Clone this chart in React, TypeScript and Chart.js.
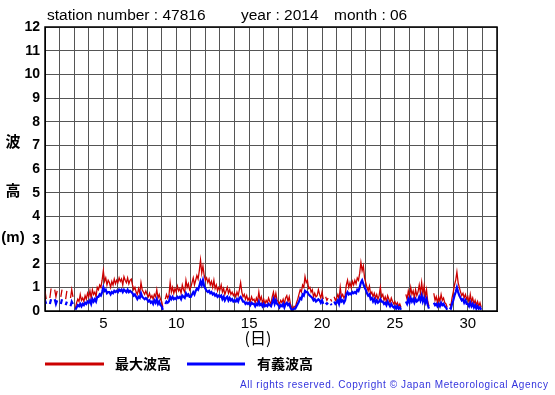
import React, { useEffect, useRef } from "react";
import { Chart, registerables } from "chart.js";

Chart.register(...registerables);

// Header / labels
const stationText = "station number : 47816";
const yearText = "year : 2014";
const monthText = "month : 06";
const yTitleChars = ["波", "高", "(m)"];
const xTitle = "(日)";
const legendMax = "最大波高";
const legendSig = "有義波高";
const copyright = "All rights reserved. Copyright © Japan Meteorological Agency";

// Axes
const dayMin = 1;
const dayMax = 32;
const xLabelDays = [5, 10, 15, 20, 25, 30];
const yMin = 0;
const yMax = 12;
const samplesPerDay = 12; // every 2 hours

// 最大波高 (m), 2-hourly, days 1..30
const maxWave: (number | null)[] = [
  0.85, 0.5, null, null, 0.55, 0.95, null, null, 0.9, 0.6, 0.85, null, // 1
  null, 0.6, 0.9, null, null, 0.5, 0.85, null, null, 0.55, 0.9, 0.6, // 2
  null, 0.1, 0.35, 0.5, 0.4, 0.7, 0.45, 0.55, 0.4, 0.65, 0.5, 0.75, // 3
  0.6, 0.85, 0.55, 0.9, 0.7, 0.8, 0.6, 1.0, 0.9, 1.1, 1.0, 1.3, // 4
  1.7, 1.25, 1.4, 1.1, 1.3, 1.2, 1.0, 1.25, 1.1, 1.35, 1.15, 1.3, // 5
  1.2, 1.4, 1.25, 1.35, 1.1, 1.45, 1.3, 1.2, 1.4, 1.15, 1.3, 1.35, // 6
  1.1, 0.9, 1.0, 0.8, 0.7, 0.95, 0.75, 1.2, 0.9, 0.8, 0.7, 0.85, // 7
  0.7, 0.6, 0.75, 0.55, 0.65, 0.5, 0.7, 0.6, 0.9, 0.55, 0.7, 0.5, // 8
  0.4, 0.15, null, 0.5, 0.7, 0.55, 0.65, 1.2, 0.8, 1.0, 0.75, 0.95, // 9
  0.8, 1.05, 0.85, 0.95, 0.75, 1.1, 0.9, 0.8, 1.3, 1.0, 1.15, 0.9, // 10
  1.0, 1.2, 1.4, 1.1, 1.3, 1.5, 1.35, 1.7, 2.15, 1.6, 1.9, 1.5, // 11
  1.3, 1.4, 1.2, 1.35, 1.1, 1.25, 1.0, 1.3, 0.95, 1.1, 0.85, 1.0, // 12
  0.9, 1.1, 0.8, 0.95, 0.7, 0.85, 1.0, 0.75, 0.9, 0.7, 0.8, 0.65, // 13
  0.75, 0.6, 0.8, 0.65, 0.9, 1.2, 0.8, 0.6, 0.7, 0.5, 0.65, 0.45, // 14
  0.55, 0.4, 0.6, 0.45, 0.5, 0.35, 0.55, 0.4, 0.8, 0.45, 0.6, 0.35, // 15
  0.5, 0.3, 0.45, 0.35, 0.55, 0.4, 0.3, 0.6, 0.8, 0.5, 0.75, 0.45, // 16
  0.4, 0.3, 0.45, 0.35, 0.5, 0.3, 0.55, 0.65, 0.4, 0.6, 0.3, 0.15, // 17
  0.1, 0.2, 0.15, 0.35, 0.5, 0.7, 0.9, 0.8, 1.1, 1.0, 1.45, 1.2, // 18
  1.3, 0.95, 1.0, 0.8, 0.9, 0.6, 0.75, 0.6, 0.65, 0.9, 0.7, 0.55, // 19
  0.8, 0.5, null, 0.6, 0.45, 0.55, null, 0.5, 0.4, null, 0.6, 0.45, // 20
  0.55, 0.7, 0.5, 1.0, 0.6, 0.7, 0.55, 0.65, 1.1, 1.3, 1.0, 1.2, // 21
  1.0, 1.25, 1.1, 1.3, 1.15, 1.4, 1.3, 1.6, 2.05, 1.7, 1.9, 1.4, // 22
  1.2, 1.0, 0.85, 1.05, 0.7, 0.8, 0.6, 0.75, 0.55, 0.7, 0.5, 0.65, // 23
  1.0, 0.6, 0.7, 0.45, 0.6, 0.4, 0.65, 0.5, 0.35, 0.55, 0.4, 0.3, // 24
  0.4, 0.25, 0.35, 0.2, 0.3, 0.15, null, null, null, 0.7, 0.5, 0.85, // 25
  0.6, 1.0, 0.7, 0.85, 0.55, 0.9, 0.65, 0.8, 1.1, 0.75, 1.2, 0.7, // 26
  1.05, 0.6, 0.9, 0.4, 0.2, null, null, null, 0.75, 0.45, 0.6, 0.35, // 27
  0.6, 0.4, 0.7, 0.45, 0.55, 0.35, 0.3, 0.15, null, 0.3, 0.2, 0.55, // 28
  0.8, 1.1, 1.3, 1.65, 1.2, 1.0, 0.8, 0.65, 0.75, 0.55, 0.7, 0.5, // 29
  0.6, 0.35, 0.7, 0.4, 0.55, 0.3, 0.45, 0.25, 0.4, 0.2, 0.35, 0.15, // 30
];

// 有義波高 (m), 2-hourly, days 1..30
const sigWave: (number | null)[] = [
  0.45, 0.3, null, null, 0.3, 0.5, null, null, 0.5, 0.3, 0.45, null, // 1
  null, 0.3, 0.5, null, null, 0.25, 0.4, null, null, 0.2, 0.4, 0.3, // 2
  null, 0.05, 0.15, 0.25, 0.2, 0.3, 0.2, 0.3, 0.25, 0.35, 0.3, 0.4, // 3
  0.35, 0.45, 0.3, 0.5, 0.4, 0.5, 0.4, 0.6, 0.6, 0.7, 0.65, 0.8, // 4
  1.0, 0.85, 0.9, 0.75, 0.8, 0.8, 0.7, 0.8, 0.75, 0.85, 0.8, 0.85, // 5
  0.8, 0.9, 0.85, 0.9, 0.8, 0.9, 0.85, 0.8, 0.9, 0.8, 0.85, 0.8, // 6
  0.75, 0.65, 0.7, 0.6, 0.5, 0.6, 0.55, 0.75, 0.6, 0.55, 0.5, 0.55, // 7
  0.5, 0.4, 0.45, 0.35, 0.4, 0.3, 0.45, 0.35, 0.5, 0.3, 0.4, 0.25, // 8
  0.2, 0.05, null, 0.3, 0.4, 0.35, 0.4, 0.6, 0.5, 0.6, 0.5, 0.55, // 9
  0.5, 0.6, 0.55, 0.6, 0.5, 0.65, 0.6, 0.55, 0.75, 0.65, 0.7, 0.6, // 10
  0.6, 0.7, 0.8, 0.7, 0.85, 0.95, 0.9, 1.05, 1.25, 1.1, 1.3, 1.05, // 11
  0.95, 0.85, 0.8, 0.85, 0.75, 0.8, 0.7, 0.75, 0.65, 0.7, 0.6, 0.65, // 12
  0.6, 0.65, 0.5, 0.6, 0.45, 0.55, 0.6, 0.45, 0.55, 0.45, 0.5, 0.4, // 13
  0.45, 0.4, 0.5, 0.4, 0.55, 0.6, 0.5, 0.4, 0.4, 0.3, 0.35, 0.3, // 14
  0.35, 0.25, 0.35, 0.3, 0.3, 0.2, 0.3, 0.25, 0.4, 0.25, 0.3, 0.2, // 15
  0.3, 0.2, 0.25, 0.2, 0.3, 0.25, 0.2, 0.35, 0.5, 0.3, 0.45, 0.3, // 16
  0.25, 0.15, 0.25, 0.2, 0.3, 0.15, 0.3, 0.35, 0.25, 0.3, 0.15, 0.05, // 17
  0.05, 0.1, 0.1, 0.2, 0.3, 0.4, 0.55, 0.5, 0.7, 0.65, 0.85, 0.8, // 18
  0.8, 0.7, 0.65, 0.6, 0.55, 0.45, 0.5, 0.4, 0.45, 0.5, 0.45, 0.35, // 19
  0.45, 0.3, null, 0.35, 0.3, 0.35, null, 0.3, 0.25, null, 0.4, 0.3, // 20
  0.35, 0.45, 0.3, 0.55, 0.4, 0.45, 0.35, 0.45, 0.7, 0.8, 0.7, 0.75, // 21
  0.7, 0.8, 0.75, 0.8, 0.75, 0.9, 0.85, 1.0, 1.2, 1.3, 1.15, 1.0, // 22
  0.9, 0.75, 0.65, 0.7, 0.5, 0.55, 0.4, 0.5, 0.35, 0.45, 0.35, 0.4, // 23
  0.5, 0.4, 0.4, 0.3, 0.35, 0.25, 0.4, 0.3, 0.2, 0.3, 0.2, 0.15, // 24
  0.2, 0.1, 0.2, 0.1, 0.15, 0.05, null, null, null, 0.4, 0.3, 0.5, // 25
  0.35, 0.55, 0.4, 0.5, 0.35, 0.5, 0.4, 0.45, 0.6, 0.45, 0.65, 0.4, // 26
  0.55, 0.35, 0.5, 0.25, 0.1, null, null, null, 0.35, 0.25, 0.3, 0.2, // 27
  0.3, 0.2, 0.35, 0.25, 0.3, 0.2, 0.15, 0.05, null, 0.15, 0.1, 0.3, // 28
  0.45, 0.65, 0.8, 1.0, 0.8, 0.65, 0.55, 0.45, 0.5, 0.35, 0.45, 0.3, // 29
  0.3, 0.2, 0.35, 0.2, 0.3, 0.15, 0.25, 0.1, 0.2, 0.1, 0.15, 0.05, // 30
];

const RED = "#cc0000";
const BLUE = "#0000ff";
const LATIN = "'Liberation Sans', Arial, sans-serif";
const CJK = "'Noto Sans CJK JP', 'Noto Sans CJK SC', sans-serif";

const toPoints = (arr: (number | null)[]) =>
  arr.map((v, i) => ({ x: dayMin + i / samplesPerDay, y: v }));

const decorPlugin = {
  id: "decor",
  beforeDraw(chart: any) {
    const ctx = chart.ctx;
    ctx.save();
    ctx.fillStyle = "#fff";
    ctx.fillRect(0, 0, chart.width, chart.height);
    ctx.restore();
  },
  afterDraw(chart: any) {
    const ctx = chart.ctx as CanvasRenderingContext2D;
    const { left, top, right, bottom } = chart.chartArea;
    ctx.save();
    // frame
    ctx.strokeStyle = "#000";
    ctx.lineWidth = 1.5;
    ctx.strokeRect(left, top, right - left, bottom - top);

    // header
    ctx.fillStyle = "#000";
    ctx.textBaseline = "middle";
    ctx.textAlign = "left";
    ctx.font = `15.5px ${LATIN}`;
    ctx.fillText(stationText, 47, 16);
    ctx.fillText(yearText, 241, 16);
    ctx.fillText(monthText, 334, 16);

    // y title
    ctx.textAlign = "center";
    ctx.font = `bold 15px ${CJK}`;
    ctx.fillText(yTitleChars[0], 13, 141);
    ctx.fillText(yTitleChars[1], 13, 190);
    ctx.font = `bold 15px ${LATIN}`;
    ctx.fillText(yTitleChars[2], 13, 238);

    // x title
    ctx.font = `16px ${CJK}`;
    ctx.fillText(xTitle, 258, 338);

    // legend
    ctx.lineWidth = 3;
    ctx.strokeStyle = RED;
    ctx.beginPath();
    ctx.moveTo(45, 364);
    ctx.lineTo(104, 364);
    ctx.stroke();
    ctx.strokeStyle = BLUE;
    ctx.beginPath();
    ctx.moveTo(187, 364);
    ctx.lineTo(245, 364);
    ctx.stroke();
    ctx.textAlign = "left";
    ctx.font = `bold 14px ${CJK}`;
    ctx.fillText(legendMax, 115, 364);
    ctx.fillText(legendSig, 257, 364);

    // copyright
    ctx.fillStyle = "#3333dd";
    ctx.font = `10px ${LATIN}`;
    (ctx as any).letterSpacing = "0.6px";
    ctx.textAlign = "left";
    ctx.fillText(copyright, 240, 385);
    ctx.restore();
  },
};

export default function App() {
  const ref = useRef<HTMLCanvasElement | null>(null);
  useEffect(() => {
    if (!ref.current) return;
    const chart = new Chart(ref.current, {
      type: "line",
      data: {
        datasets: [
          {
            label: legendSig,
            data: toPoints(sigWave) as any,
            borderColor: BLUE,
            borderWidth: 2.2,
            pointRadius: 0,
            spanGaps: false,
            tension: 0,
          },
          {
            label: legendMax,
            data: toPoints(maxWave) as any,
            borderColor: RED,
            borderWidth: 1.3,
            pointRadius: 0,
            spanGaps: false,
            tension: 0,
          },
        ],
      },
      options: {
        responsive: false,
        animation: false,
        events: [],
        layout: { padding: { left: 0, top: 27, right: 58, bottom: 0 } },
        plugins: { legend: { display: false }, tooltip: { enabled: false } },
        scales: {
          x: {
            type: "linear",
            min: dayMin,
            max: dayMax,
            afterFit: (s: any) => {
              s.height = 84;
            },
            grid: { color: "#555", lineWidth: 1, drawTicks: false },
            border: { display: true, color: "#000", width: 1 },
            ticks: {
              stepSize: 1,
              autoSkip: false,
              maxRotation: 0,
              padding: 4,
              color: "#000",
              font: { family: LATIN, size: 15 },
              callback: (v: any) => (xLabelDays.includes(Number(v)) ? String(v) : ""),
            },
          },
          y: {
            min: yMin,
            max: yMax,
            afterFit: (s: any) => {
              s.width = 45;
            },
            grid: { color: "#555", lineWidth: 1, drawTicks: false },
            border: { display: true, color: "#000", width: 1 },
            ticks: {
              stepSize: 1,
              padding: 5,
              color: "#000",
              font: { family: LATIN, size: 14, weight: "bold" },
            },
          },
        },
      },
      plugins: [decorPlugin],
    });
    return () => chart.destroy();
  }, []);
  return (
    <div style={{ position: "fixed", left: 0, top: 0, width: 555, height: 395, background: "#fff" }}>
      <canvas ref={ref} width={555} height={395} style={{ display: "block" }} />
    </div>
  );
}
